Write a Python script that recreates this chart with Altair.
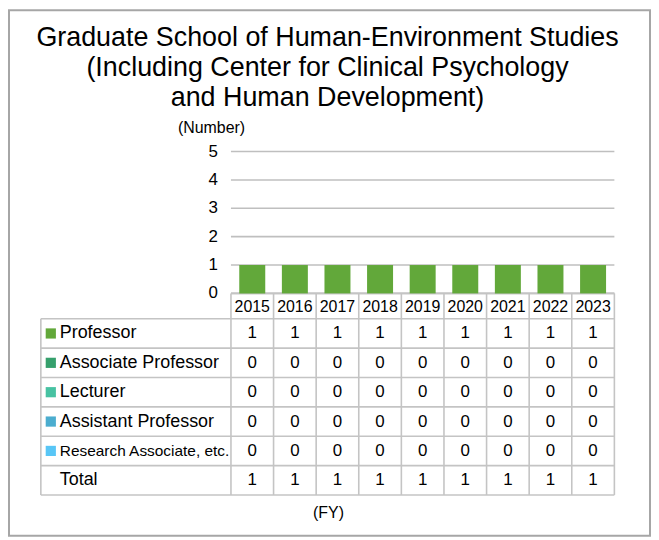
import altair as alt
import pandas as pd

# ---------------- data ----------------
TITLE_LINES = [
    "Graduate School of Human-Environment Studies",
    "(Including Center for Clinical Psychology",
    "and Human Development)",
]
Y_NOTE = "(Number)"
X_NOTE = "(FY)"
YEARS = ["2015", "2016", "2017", "2018", "2019", "2020", "2021", "2022", "2023"]
CATEGORIES = ["Professor", "Associate Professor", "Lecturer",
              "Assistant Professor", "Research Associate, etc."]
PROFESSOR = [1, 1, 1, 1, 1, 1, 1, 1, 1]
ASSOCIATE_PROFESSOR = [0, 0, 0, 0, 0, 0, 0, 0, 0]
LECTURER = [0, 0, 0, 0, 0, 0, 0, 0, 0]
ASSISTANT_PROFESSOR = [0, 0, 0, 0, 0, 0, 0, 0, 0]
RESEARCH_ASSOCIATE = [0, 0, 0, 0, 0, 0, 0, 0, 0]
TOTAL_LABEL = "Total"
TOTAL = [1, 1, 1, 1, 1, 1, 1, 1, 1]
Y_TICKS = [0, 1, 2, 3, 4, 5]
COLORS = ["#62A83A", "#36A06C", "#47C2A2", "#4BADCF", "#58C6F6"]

SERIES = [PROFESSOR, ASSOCIATE_PROFESSOR, LECTURER, ASSISTANT_PROFESSOR, RESEARCH_ASSOCIATE]

# ---------------- layout (page pixels) ----------------
FONT = "Liberation Sans"
PLOT_X0, PLOT_Y0, PLOT_W, PLOT_H = 9, 9, 644, 528
COL0, COL_W = 232.0, 42.8          # left edge of first year column, column width
ZERO, UNIT = 293.5, 28.5           # pixel row of value 0, pixels per unit
TABLE_LEFT = 41.0
HEADER_BOTTOM = 319.0
ROW_H = 29.5
BAR_PAD = 0.195


def cx(px):
    return (px - COL0) / COL_W


def vy(py):
    return (ZERO - py) / UNIT


xs = alt.Scale(domain=[cx(PLOT_X0), cx(PLOT_X0 + PLOT_W)], nice=False, zero=False)
ys = alt.Scale(domain=[vy(PLOT_Y0 + PLOT_H), vy(PLOT_Y0)], nice=False, zero=False)


def X(f):
    return alt.X(f, type="quantitative", scale=xs, axis=None)


def Y(f):
    return alt.Y(f, type="quantitative", scale=ys, axis=None)


n = len(YEARS)
row_labels = CATEGORIES + [TOTAL_LABEL]
row_values = SERIES + [TOTAL]
row_center = [vy(HEADER_BOTTOM + (i + 0.5) * ROW_H) for i in range(len(row_labels))]
table_bottom = HEADER_BOTTOM + len(row_labels) * ROW_H

# ---------------- gridlines & y labels ----------------
grid_df = pd.DataFrame({"v": Y_TICKS, "x0": 0, "x1": n})
grid = alt.Chart(grid_df).mark_rule(color="#BFBFBF", strokeWidth=1.6).encode(
    x=X("x0"), x2="x1", y=Y("v"))

ylab_df = pd.DataFrame({"v": Y_TICKS, "x": cx(219), "t": [str(t) for t in Y_TICKS]})
ylabels = alt.Chart(ylab_df).mark_text(
    align="right", baseline="middle", font=FONT, fontSize=17, color="#000000"
).encode(x=X("x"), y=Y("v"), text="t:N")

# ---------------- stacked bars ----------------
bar_rows = []
for ci, (cat, series) in enumerate(zip(CATEGORIES, SERIES)):
    for yi, (yr, v) in enumerate(zip(YEARS, series)):
        bar_rows.append({"year": yr, "idx": yi, "category": cat, "order": ci, "value": v})
bars = alt.Chart(pd.DataFrame(bar_rows)).transform_stack(
    stack="value", groupby=["year"], as_=["v0", "v1"],
    sort=[alt.SortField("order", order="ascending")]
).transform_calculate(
    x0=f"datum.idx + {BAR_PAD}", x1=f"datum.idx + {1 - BAR_PAD}"
).mark_rect().encode(
    x=X("x0"), x2="x1", y=Y("v0"), y2="v1",
    color=alt.Color("category:N", scale=alt.Scale(domain=CATEGORIES, range=COLORS), legend=None),
)

# ---------------- table lines ----------------
h_rows = [{"y": 0.0, "x0": 0.0, "x1": float(n)}]
for i in range(len(row_labels) + 1):
    h_rows.append({"y": vy(HEADER_BOTTOM + i * ROW_H), "x0": cx(TABLE_LEFT), "x1": float(n)})
hlines = alt.Chart(pd.DataFrame(h_rows)).mark_rule(color="#C4C4C4", strokeWidth=1.6).encode(
    x=X("x0"), x2="x1", y=Y("y"))

v_rows = [{"x": float(k), "y0": 0.0, "y1": vy(table_bottom)} for k in range(n + 1)]
v_rows.append({"x": cx(TABLE_LEFT), "y0": vy(HEADER_BOTTOM), "y1": vy(table_bottom)})
vlines = alt.Chart(pd.DataFrame(v_rows)).mark_rule(color="#C4C4C4", strokeWidth=1.6).encode(
    x=X("x"), y=Y("y0"), y2="y1")

# ---------------- table text ----------------
hdr_df = pd.DataFrame({"year": YEARS, "x": [i + 0.5 for i in range(n)],
                       "y": vy((ZERO + HEADER_BOTTOM) / 2 + 0.5)})
header = alt.Chart(hdr_df).mark_text(
    align="center", baseline="middle", font=FONT, fontSize=16, color="#000000"
).encode(x=X("x"), y=Y("y"), text="year:N")

cell_rows = []
for r, vals in enumerate(row_values):
    for i, v in enumerate(vals):
        cell_rows.append({"x": i + 0.5, "y": row_center[r], "t": str(v)})
cells = alt.Chart(pd.DataFrame(cell_rows)).mark_text(
    align="center", baseline="middle", font=FONT, fontSize=17, color="#000000"
).encode(x=X("x"), y=Y("y"), text="t:N")

lab_df = pd.DataFrame({
    "t": row_labels,
    "x": cx(60),
    "y": row_center,
    "fs": [18 if lbl != CATEGORIES[-1] else 15.5 for lbl in row_labels],
})
labels = alt.Chart(lab_df).mark_text(
    align="left", baseline="middle", font=FONT, color="#000000"
).encode(x=X("x"), y=Y("y"), text="t:N", size=alt.Size("fs:Q", scale=None))

sq_df = pd.DataFrame({"category": CATEGORIES, "x": cx(51), "y": row_center[:len(CATEGORIES)]})
squares = alt.Chart(sq_df).mark_square(size=105, opacity=1, strokeWidth=0).encode(
    x=X("x"), y=Y("y"),
    color=alt.Color("category:N", scale=alt.Scale(domain=CATEGORIES, range=COLORS), legend=None))

# ---------------- titles & notes ----------------
title_df = pd.DataFrame({"t": TITLE_LINES, "x": cx(329),
                         "y": [vy(45 + 30 * i) for i in range(len(TITLE_LINES))]})
title = alt.Chart(title_df).mark_text(
    align="center", baseline="alphabetic", font=FONT, fontSize=27, color="#000000"
).encode(x=X("x"), y=Y("y"), text="t:N")

note_df = pd.DataFrame({"t": [Y_NOTE, X_NOTE], "x": [cx(212.5), cx(330)], "y": [vy(127), vy(514)]})
notes = alt.Chart(note_df).mark_text(
    align="center", baseline="middle", font=FONT, fontSize=16, color="#000000"
).encode(x=X("x"), y=Y("y"), text="t:N")

chart = alt.layer(
    grid, hlines, vlines, bars, ylabels, header, cells, labels, squares, title, notes
).properties(
    width=PLOT_W, height=PLOT_H,
    padding={"left": 1, "top": 1, "right": 1, "bottom": 1},
    autosize=alt.AutoSizeParams(type="none"),
).configure_view(stroke="#A6A6A6", strokeWidth=2)

chart.save("out.html", embed_options={"renderer": "svg", "actions": False})
